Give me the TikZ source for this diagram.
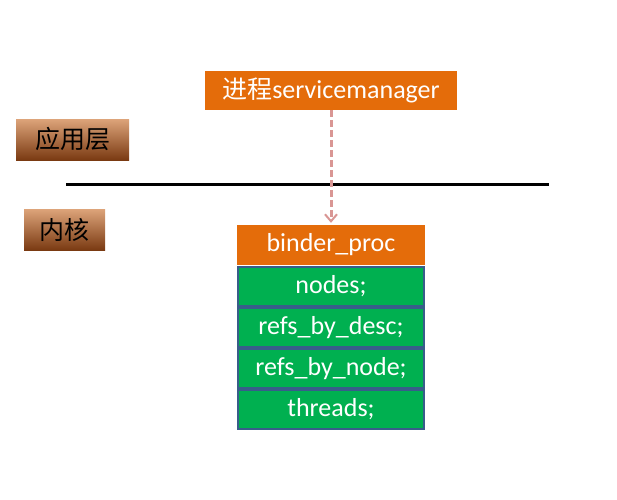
\documentclass[tikz,border=0pt]{standalone}
\usepackage{fontspec}
\setmainfont{Carlito}
\newfontfamily\cjk{Noto Sans CJK SC}
\usetikzlibrary{arrows.meta}
\definecolor{orng}{HTML}{E46C0A}
\definecolor{grn}{HTML}{00B050}
\definecolor{bdr}{HTML}{385D8A}
\definecolor{pinkar}{HTML}{D99694}
\definecolor{tan}{HTML}{DDA47A}
\definecolor{brn}{HTML}{7A3A12}
\tikzset{
  obox/.style={fill=orng, draw=none, text=white, inner sep=0pt, font=\fontsize{26}{30}\selectfont},
  gbox/.style={fill=grn, draw=bdr, line width=2pt, text=white, inner sep=0pt, font=\fontsize{26}{30}\selectfont, minimum width=186pt, minimum height=39pt},
  lbox/.style={top color=tan, bottom color=brn, draw=none, text=black, inner sep=0pt, font=\cjk\fontsize{25}{30}\selectfont, minimum height=41pt},
  arr/.style={pinkar, dashed, dash pattern=on 7pt off 3pt, line width=3pt, -{Straight Barb[length=7pt,width=12pt,line width=2pt]}, shorten >=2pt}
}
\begin{document}
\begin{tikzpicture}[x=1pt,y=-1pt]
\useasboundingbox (0,0) rectangle (617,499);
\node[obox, minimum width=252pt, minimum height=39pt] (sm) at (331,90.5) {{\cjk\fontsize{25}{30}\selectfont 进程}servicemanager};
\node[lbox, minimum width=113pt] (app) at (72.5,139.5) {应用层};
\node[lbox, minimum width=81pt] (kern) at (64.5,229.5) {内核};
\coordinate (L1) at (66,184);
\coordinate (L2) at (549,184);
\draw[line width=3pt] (L1) -- (L2);
\node[obox, minimum width=188pt, minimum height=40pt] (bp) at (331,245) {binder\_proc};
\node[gbox] (n1) at (331,286.5) {nodes;};
\node[gbox] (n2) at (331,327.5) {refs\_by\_desc;};
\node[gbox] (n3) at (331,368.5) {refs\_by\_node;};
\node[gbox] (n4) at (331,409.5) {threads;};
\draw[arr] (sm.south) -- (bp.north);
\end{tikzpicture}
\end{document}
